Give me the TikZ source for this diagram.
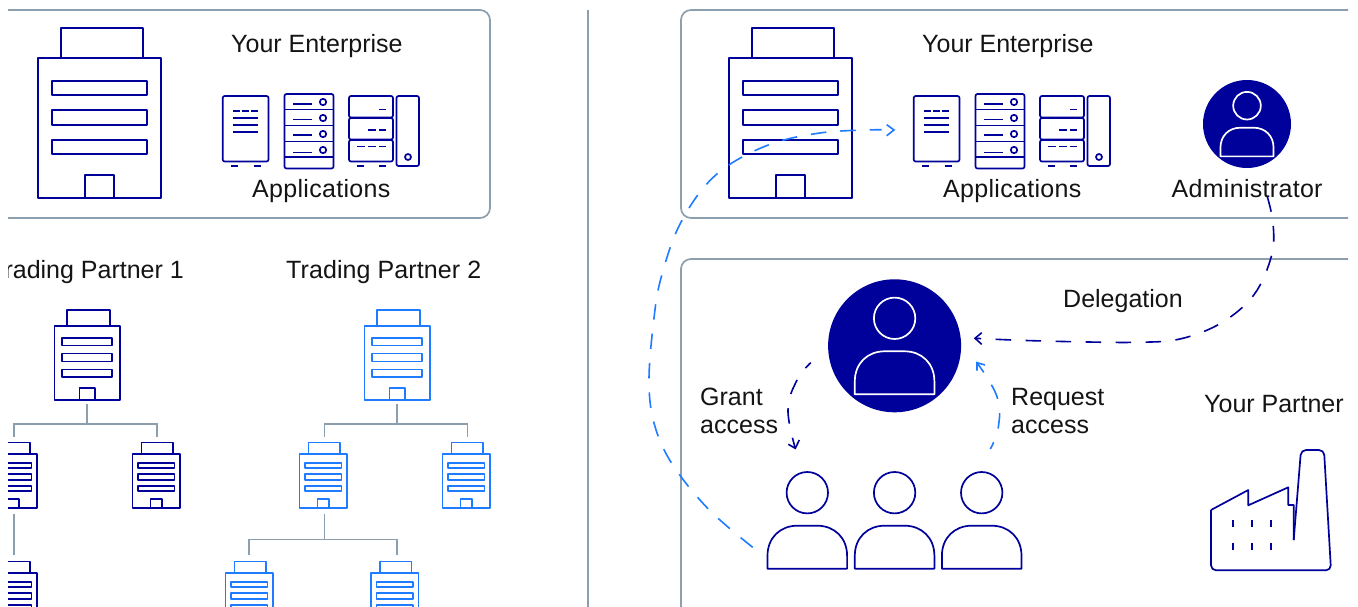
\documentclass[tikz,border=0pt]{standalone}
\usepackage{fontspec}
\setmainfont{Liberation Sans}
\usetikzlibrary{arrows.meta}
\definecolor{navy}{HTML}{00009A}
\definecolor{brightblue}{HTML}{1F7BFF}
\definecolor{frame}{HTML}{8C9FAE}
\tikzset{
  x=1pt,y=-1pt,
  lbl/.style={font=\fontsize{25}{29}\selectfont,text=black!92,inner sep=0pt,anchor=base west},
  panel/.style={draw=frame,line width=1.7pt,rounded corners=10pt},
  tree/.style={draw=frame,line width=1.7pt},
  ln/.style={line width=1.7pt,line join=round},
  flow/.style={line width=1.6pt,dash pattern=on 15.5pt off 14.5pt},
  head/.style={line width=1.6pt,line join=miter},
}
\newcommand{\wide}{\addfontfeature{LetterSpace=1.2}}
% \bldg{x}{y}{scale}{colour}: x,y = top left of the body
\newcommand{\bldg}[4]{%
  \begin{scope}[shift={(#1,#2)},ln,draw=#4]
    \pgfmathsetmacro{\s}{#3}
    \draw (0,0) rectangle (123*\s,140*\s);
    \draw (23*\s,0) -- (23*\s,-30*\s) -- (105*\s,-30*\s) -- (105*\s,0);
    \draw (14*\s,23*\s) rectangle (109*\s,37*\s);
    \draw (14*\s,52*\s) rectangle (109*\s,67*\s);
    \draw (14*\s,82*\s) rectangle (109*\s,96*\s);
    \draw (47*\s,140*\s) -- (47*\s,117*\s) -- (76*\s,117*\s) -- (76*\s,140*\s);
  \end{scope}}
% \pers{cx}{head cy}{scale}{colour}
\newcommand{\pers}[4]{%
  \begin{scope}[shift={(#1,#2)},scale=#3,line width=1.7pt,draw=#4,line join=round]
    \draw (0,0) circle[radius=20.7];
    \draw (-39.8,76) -- (-39.8,63) .. controls (-39.8,45) and (-27,33) .. (-10,33) -- (10,33) .. controls (27,33) and (39.8,45) .. (39.8,63) -- (39.8,76) -- cycle;
  \end{scope}}
% applications icons, offset x
\newcommand{\apps}[1]{%
  \begin{scope}[shift={(#1,0)},ln,draw=navy]
    \draw[rounded corners=2pt] (222.7,96) rectangle (268.5,161.5);
    \draw (233,111) -- (240,111) (242,111) -- (249,111) (251,111) -- (258,111);
    \draw (233,118) -- (258,118) (233,125) -- (258,125) (233,132) -- (258,132);
    \draw (231,166) -- (238,166) (254,166) -- (261,166);
    \draw[rounded corners=2pt] (284.5,94) rectangle (333.5,168.5);
    \draw (284.5,109.5) -- (333.5,109.5) (284.5,125.5) -- (333.5,125.5) (284.5,141.5) -- (333.5,141.5) (284.5,157) -- (333.5,157);
    \draw (293,104) -- (312,104) (293,119.5) -- (312,119.5) (293,135) -- (312,135) (293,152.5) -- (312,152.5);
    \foreach \yy in {102,118,134,150} \draw (323,\yy) circle[radius=3.2];
    \draw[rounded corners=2pt] (349,96) rectangle (393,117.5);
    \draw[rounded corners=2pt] (349,118) rectangle (393,139.5);
    \draw[rounded corners=2pt] (349,140) rectangle (393,161.5);
    \draw (379,109.5) -- (386,109.5);
    \draw (368,130) -- (376,130) (379,130) -- (386,130);
    \draw (357,146.5) -- (365,146.5) (368,146.5) -- (376,146.5) (379,146.5) -- (386,146.5);
    \draw (357,166) -- (364,166) (379,166) -- (386,166);
    \draw[rounded corners=2pt] (396.5,96) rectangle (419,166);
    \draw (408,157) circle[radius=3];
  \end{scope}}
\begin{document}
\begin{tikzpicture}
\useasboundingbox (0,0) rectangle (1358,607);
\fill[white] (0,0) rectangle (1358,607);
% ----- left half, cut at x=8
\begin{scope}
  \clip (8,0) rectangle (580,607);
  \draw[panel] (-20,10) -- (490,10) -- (490,218) -- (-20,218);
  \bldg{38}{58}{1}{navy}
  \apps{0}
  \node[lbl] (ent1) at (231,52.5) {Your Enterprise};
  \node[lbl] (app1) at (252,197) {\wide Applications};
  \node[lbl] (tp1) at (-10,278) {Trading Partner 1};
  \node[lbl] (tp2) at (286,278) {\addfontfeature{LetterSpace=.4}Trading Partner 2};
  % partner 1
  \bldg{54.5}{326}{.53}{navy}
  \bldg{-10.5}{454}{.386}{navy}
  \bldg{132.5}{454}{.386}{navy}
  \bldg{-10.5}{573}{.386}{navy}
  \coordinate (p1a) at (87,404); \coordinate (p1b) at (87,424);
  \coordinate (p1c) at (14,437); \coordinate (p1d) at (157,437);
  \coordinate (p1e) at (14,514); \coordinate (p1f) at (14,555);
  \draw[tree] (p1a) -- (p1b);
  \draw[tree] (p1c) |- (p1b) -| (p1d);
  \draw[tree] (p1e) -- (p1f);
  % partner 2
  \bldg{364.5}{326}{.53}{brightblue}
  \bldg{299.5}{454}{.386}{brightblue}
  \bldg{442.5}{454}{.386}{brightblue}
  \bldg{225.5}{573}{.386}{brightblue}
  \bldg{371}{573}{.386}{brightblue}
  \coordinate (p2a) at (397,404); \coordinate (p2b) at (397,424);
  \coordinate (p2c) at (324.5,437); \coordinate (p2d) at (467.5,437);
  \coordinate (p2e) at (324.5,514); \coordinate (p2f) at (324.5,539.5);
  \coordinate (p2g) at (249,555); \coordinate (p2h) at (397,555);
  \draw[tree] (p2a) -- (p2b);
  \draw[tree] (p2c) |- (p2b) -| (p2d);
  \draw[tree] (p2e) -- (p2f);
  \draw[tree] (p2g) |- (p2f) -| (p2h);
\end{scope}
% divider
\draw[tree] (588,10) -- (588,607);
% ----- right half, cut at x=1348
\begin{scope}
  \clip (600,0) rectangle (1348,607);
  \draw[panel] (1400,10) -- (681,10) -- (681,218) -- (1400,218);
  \draw[panel] (1400,259) -- (681,259) -- (681,640);
  \bldg{729}{58}{1}{navy}
  \apps{691}
  \node[lbl] (ent2) at (922,52.5) {Your Enterprise};
  \node[lbl] (app2) at (943,197) {\wide Applications};
  \node[lbl] (admlbl) at (1171.5,197) {\wide Administrator};
  \node[circle,fill=navy,minimum size=88pt,inner sep=0pt] (adm) at (1247,124) {};
  \pers{1247}{105.7}{.667}{white}
  \node[circle,fill=navy,minimum size=133pt,inner sep=0pt] (mgr) at (894.6,345.8) {};
  \pers{894.6}{318.3}{1}{white}
  \pers{807.3}{492.7}{1}{navy}
  \pers{894.6}{492.7}{1}{navy}
  \pers{981.7}{492.7}{1}{navy}
  \node[lbl] (del) at (1063,307) {Delegation};
  \node[lbl] (g1) at (700,405) {Grant};
  \node[lbl] (g2) at (700,433) {access};
  \node[lbl] (r1) at (1011,405) {Request};
  \node[lbl] (r2) at (1011,433) {access};
  \node[lbl] (yp) at (1204,412.5) {Your Partner};
  % factory
  \begin{scope}[ln,draw=navy]
    \draw[rounded corners=5pt] (1293.7,540) -- (1301,450) -- (1324,450) -- (1331,570.3) -- (1211,570.3) -- (1211,510);
    \draw (1293.7,540) -- (1293.7,505) -- (1288.3,505) -- (1288.3,487.3) -- (1248.3,505.3) -- (1248.3,490) -- (1211,510);
    \foreach \xx in {1233.3,1252,1271.3}{
      \draw (\xx,520) -- (\xx,527.3);
      \draw (\xx,542.7) -- (\xx,550);
    }
  \end{scope}
  % connectors
  \coordinate (c1) at (752.7,547.3);
  \coordinate (c2) at (881.7,129.7);
  \coordinate (c3) at (894,130);
  \draw[flow,dash pattern=on 15.5pt off 14pt,draw=brightblue] plot[smooth,tension=.6] coordinates {(c1) (708.3,509) (671.7,463.3) (654,423) (649,380) (653.7,320.7) (661,278) (680.7,222.7) (715,175.7) (765.7,146) (822,132.7) (c2)};
  \draw[head,draw=brightblue] (886.7,124.7) -- (c3) -- (886.7,135.7);
  \coordinate (d1) at (1267.3,196.7);
  \coordinate (d2) at (975,338.3);
  \draw[flow,draw=navy] plot[smooth,tension=.6] coordinates {(d1) (1273,223) (1271.7,255) (1254.3,294.3) (1221.7,322.7) (1180,339) (1136.7,342.3) (1078.3,341.8) (1020,340.3) (d2)};
  \draw[head,draw=navy] (981.7,332.7) -- (d2) -- (981.7,344.3);
  \coordinate (e1) at (810.7,362.7);
  \coordinate (e2) at (795.3,448.3);
  \draw[flow,dash phase=8pt,draw=navy] plot[smooth,tension=.7] coordinates {(e1) (796.7,380.7) (788,410) (e2)};
  \draw[head,draw=navy] (788.3,444.3) -- (e2) -- (799.3,440);
  \coordinate (f1) at (990.3,449);
  \coordinate (f2) at (977,362.7);
  \draw[flow,dash phase=8pt,draw=brightblue] plot[smooth,tension=.7] coordinates {(f1) (998.3,427.3) (997,396.7) (f2)};
  \draw[head,draw=brightblue] (977,370.7) -- (f2) -- (985,365);
\end{scope}
\end{tikzpicture}
\end{document}
